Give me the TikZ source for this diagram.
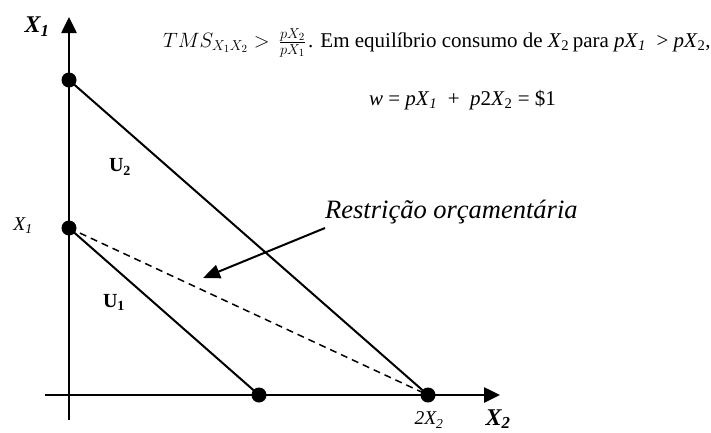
\documentclass[tikz,border=0pt]{standalone}
\usepackage{fontspec}
\setmainfont{Liberation Serif}
\usetikzlibrary{arrows.meta}
\begin{document}
\begin{tikzpicture}[x=1pt,y=-1pt,
  dot/.style={circle,fill=black,inner sep=0pt,minimum size=15pt},
  axisline/.style={line width=2.6pt,-{Triangle[length=16pt,width=15pt]}},
  uline/.style={line width=2pt},
  budget/.style={line width=1.5pt,dash pattern=on 7pt off 5pt},
  pointer/.style={line width=2pt,-{Triangle[length=17pt,width=14pt]}},
  txt/.style={inner sep=0pt,font=\fontsize{21}{24}\selectfont},
  axlbl/.style={inner sep=0pt,font=\fontsize{24}{24}\selectfont\bfseries\itshape},
  ulbl/.style={inner sep=0pt,font=\fontsize{20}{22}\selectfont\bfseries},
  ptlbl/.style={inner sep=0pt,font=\fontsize{19.5}{22}\selectfont\itshape},
  restr/.style={inner sep=0pt,font=\fontsize{26.5}{30}\selectfont\itshape}]
\useasboundingbox (0,0) rectangle (711,432);
% axes
\coordinate (ybot) at (69,420);
\coordinate (ytop) at (69,17);
\coordinate (xleft) at (45,395);
\coordinate (xright) at (500,395);
\draw[axisline] (ybot) -- (ytop);
\draw[axisline] (xleft) -- (xright);
% points
\node[dot] (top) at (69,80) {};
\node[dot] (a) at (69,228) {};
\node[dot] (b) at (259,395) {};
\node[dot] (c) at (428,395) {};
% lines
\draw[uline] (top.center) -- (c.center);
\draw[uline] (a.center) -- (b.center);
\draw[budget] (a.center) -- (c.center);
% pointer
\coordinate (ptail) at (325,228);
\coordinate (phead) at (203,278);
\draw[pointer] (ptail) -- (phead);
% labels
\node[axlbl] (lx1) at (37,27) {X\textsubscript{1}};
\node[axlbl] (lx2) at (498,419) {X\textsubscript{2}};
\node[ptlbl] (la) at (23,226) {X\textsubscript{1}};
\node[ptlbl] (lc) at (429,420) {2X\textsubscript{2}};
\node[ulbl] (lu2) at (120,167) {U\textsubscript{2}};
\node[ulbl] (lu1) at (114,302) {U\textsubscript{1}};
\node[restr,anchor=base west] (lr) at (325,218) {Restrição orçamentária};
\node[txt,anchor=base west] (l1a) at (163,47) {$TMS_{X_1X_2} > \,\frac{pX_2}{pX_1}$};
\node[txt,anchor=base west] (l1b) at (308,47) {. Em equilíbrio consumo de \textit{X}\textsubscript{2}\,para \textit{pX}\textsubscript{\textit{1}} \ > \textit{pX}\textsubscript{2},};
\node[txt,anchor=base] (l2) at (462.5,105) {\textit{w} = \textit{pX}\textsubscript{\textit{1}} \ + \ \textit{p}2\textit{X}\textsubscript{2} = \$1};
\end{tikzpicture}
\end{document}
